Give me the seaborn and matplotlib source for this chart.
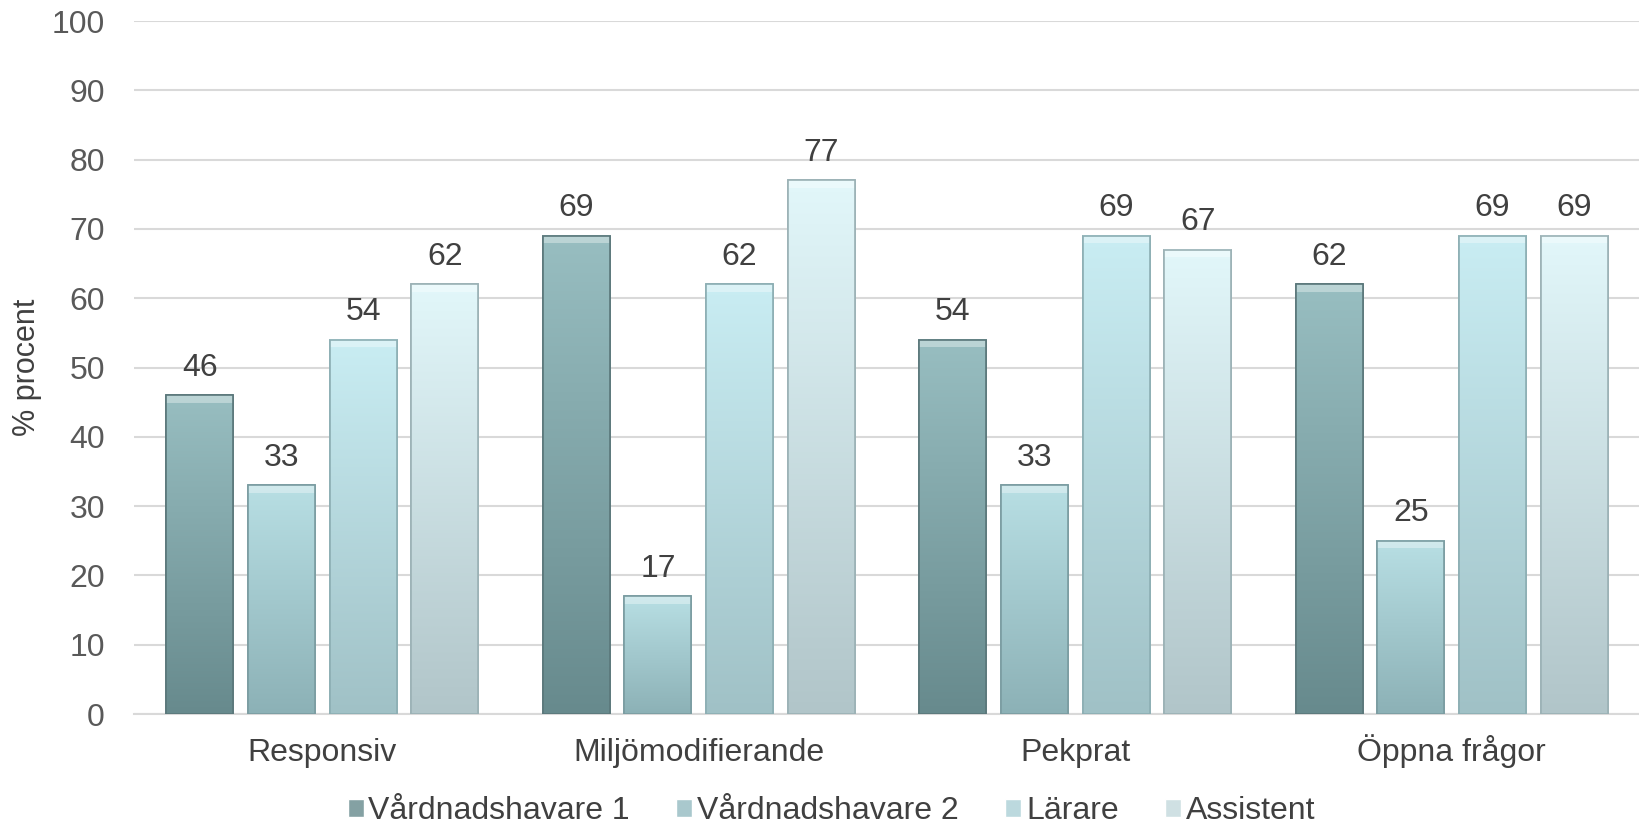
import numpy as np
import pandas as pd
import matplotlib
matplotlib.use("Agg")
import matplotlib.pyplot as plt
import seaborn as sns
from matplotlib.colors import LinearSegmentedColormap

categories = ["Responsiv", "Miljömodifierande", "Pekprat", "Öppna frågor"]
series = ["Vårdnadshavare 1", "Vårdnadshavare 2", "Lärare", "Assistent"]
vh1 = [46, 69, 54, 62]
vh2 = [33, 17, 33, 25]
larare = [54, 62, 69, 69]
assistent = [62, 77, 67, 69]
yticks = list(range(0, 101, 10))

top_colors = ["#98bec1", "#b8dfe4", "#c9edf3", "#e2f7fa"]
bot_colors = ["#678a8d", "#8cb1b6", "#a0c1c6", "#b1c5c9"]
mid_colors = ["#7fa5a8", "#a3ccd3", "#b6dde4", "#cbe3e7"]
edge_colors = ["#5a777a", "#7a9ca1", "#8caeb3", "#9bb1b5"]

sns.set_theme(style="white")
plt.rcParams["font.family"] = ["Liberation Sans", "DejaVu Sans"]

df = pd.DataFrame({
    "cat": np.repeat(categories, 4),
    "serie": series * 4,
    "val": [v for grp in zip(vh1, vh2, larare, assistent) for v in grp],
})

fig, ax = plt.subplots(figsize=(16.4, 8.25), dpi=100)
fig.subplots_adjust(left=0.0817, right=1.0, top=0.9745, bottom=0.1345)

sns.barplot(data=df, x="cat", y="val", hue="serie", order=categories,
            hue_order=series, palette=mid_colors, width=0.868, gap=0.18,
            ax=ax, legend=True, zorder=3)

FS = 23

for i, container in enumerate(ax.containers):
    cmap = LinearSegmentedColormap.from_list(f"g{i}", [bot_colors[i], top_colors[i]])
    for bar in container:
        bar.set_edgecolor(edge_colors[i])
        bar.set_linewidth(1.2)
        x, w, h = bar.get_x(), bar.get_width(), bar.get_height()
        grad = np.linspace(0, 1, 256).reshape(-1, 1)
        ax.imshow(grad, cmap=cmap, origin="lower", aspect="auto",
                  extent=[x, x + w, 0, h], zorder=3.5, clip_path=bar,
                  interpolation="bicubic")
        ax.add_patch(plt.Rectangle((x, h - 1.1), w, 1.1, facecolor="white",
                                   alpha=0.35, edgecolor="none", zorder=3.6))
        ax.add_patch(plt.Rectangle((x, 0), w, h, facecolor="none",
                                   edgecolor=edge_colors[i], lw=1.2, zorder=3.7))
    ax.bar_label(container, padding=9, fontsize=FS, color="#404040")

ax.set_xlim(-0.5, 3.5)
ax.set_ylim(0, 100)
ax.set_yticks(yticks)

ax.yaxis.grid(True, color="#d9d9d9", linewidth=1.5, zorder=0)
ax.xaxis.grid(False)
ax.set_axisbelow(True)
for s in ["top", "right", "left"]:
    ax.spines[s].set_visible(False)
ax.spines["bottom"].set_color("#d9d9d9")
ax.spines["bottom"].set_linewidth(1.5)

ax.tick_params(axis="y", length=0, pad=21, labelsize=FS, labelcolor="#595959")
ax.tick_params(axis="x", length=0, pad=34, labelsize=FS, labelcolor="#404040")
for lbl in ax.get_xticklabels():
    lbl.set_verticalalignment("baseline")
ax.set_xlabel("")
ax.set_ylabel("% procent", fontsize=22, color="#404040", labelpad=7)

handles, labels = ax.get_legend_handles_labels()
ax.get_legend().remove()
fig.legend(handles, labels, loc="center", bbox_to_anchor=(0.507, 0.017),
           ncol=4, frameon=False, fontsize=FS, handlelength=0.5,
           handleheight=0.5, handletextpad=0.15, columnspacing=1.45,
           labelcolor="#404040", borderpad=0.1)

fig.savefig("out.png", dpi=100, facecolor="white")
